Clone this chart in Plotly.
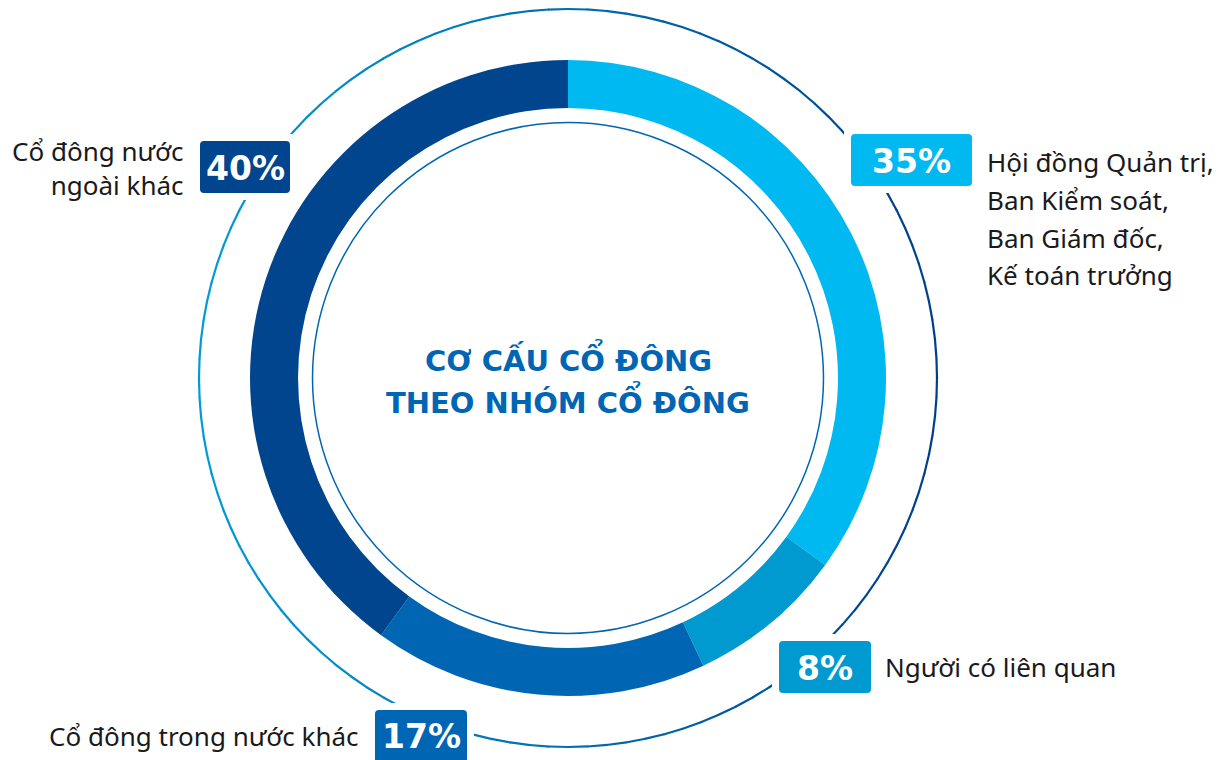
import numpy as np
import plotly.graph_objects as go

# ---------------- data ----------------
categories = [
    "Hội đồng Quản trị, Ban Kiểm soát, Ban Giám đốc, Kế toán trưởng",
    "Người có liên quan",
    "Cổ đông trong nước khác",
    "Cổ đông nước ngoài khác",
]
values = [35, 8, 17, 40]
label_lines = [
    ["Hội đồng Quản trị,", "Ban Kiểm soát,", "Ban Giám đốc,", "Kế toán trưởng"],
    ["Người có liên quan"],
    ["Cổ đông trong nước khác"],
    ["Cổ đông nước", "ngoài khác"],
]
slice_colors = ["#00b9f0", "#009ad0", "#0066b3", "#00458d"]
title_lines = ["CƠ CẤU CỔ ĐÔNG", "THEO NHÓM CỔ ĐÔNG"]

# ---------------- layout geometry (pixels) ----------------
W, H = 1232, 760
CX, CY = 568, 378
R_OUT, HOLE = 318, 0.849
R_INNER_LINE = 255.5
R_RING = 369

FONT = "Noto Sans"
BOLD_FONT = "DejaVu Sans"
TEXT_COLOR = "#1a1a1a"

fig = go.Figure()

# donut
fig.add_trace(go.Pie(
    labels=categories, values=values, sort=False, direction="clockwise",
    rotation=0, hole=HOLE, textinfo="none", hoverinfo="label+percent",
    marker=dict(colors=slice_colors, line=dict(width=0)),
    domain=dict(x=[(CX - R_OUT) / W, (CX + R_OUT) / W],
                y=[(H - CY - R_OUT) / H, (H - CY + R_OUT) / H]),
    showlegend=False,
))

# outer gradient ring (left light -> right dark)
c_left = np.array([0x00, 0x9c, 0xd8])
c_right = np.array([0x00, 0x3f, 0x8a])
nseg = 120
for i in range(nseg):
    t = np.linspace(2 * np.pi * i / nseg, 2 * np.pi * (i + 1) / nseg + 0.002, 8)
    xs = CX + R_RING * np.cos(t)
    ys = CY - R_RING * np.sin(t)
    f = (np.mean(xs) - (CX - R_RING)) / (2 * R_RING)
    c = (c_left + (c_right - c_left) * f).astype(int)
    fig.add_trace(go.Scatter(
        x=xs, y=ys, mode="lines", hoverinfo="skip", showlegend=False,
        line=dict(color="rgb(%d,%d,%d)" % tuple(c), width=2.2),
    ))

shapes = []
# inner thin circle
shapes.append(dict(type="circle", xref="x", yref="y",
                   x0=CX - R_INNER_LINE, x1=CX + R_INNER_LINE,
                   y0=CY - R_INNER_LINE, y1=CY + R_INNER_LINE,
                   line=dict(color="#0066b3", width=1.5), layer="above"))


def rrect(x0, y0, x1, y1, r):
    return (f"M{x0+r},{y0} L{x1-r},{y0} Q{x1},{y0} {x1},{y0+r} "
            f"L{x1},{y1-r} Q{x1},{y1} {x1-r},{y1} L{x0+r},{y1} "
            f"Q{x0},{y1} {x0},{y1-r} L{x0},{y0+r} Q{x0},{y0} {x0+r},{y0} Z")


# percentage boxes: (x0, y0, x1, y1)
boxes = [
    (851, 134, 972, 186),
    (779, 641, 871, 693),
    (375, 710, 467, 766),
    (200, 141, 290, 193),
]
pad = 7
annotations = []
for i, (x0, y0, x1, y1) in enumerate(boxes):
    shapes.append(dict(type="rect", xref="x", yref="y",
                       x0=x0 - pad, x1=x1 + pad, y0=y0 - pad, y1=y1 + pad,
                       fillcolor="white", line=dict(width=0), layer="above"))
    shapes.append(dict(type="path", xref="x", yref="y",
                       path=rrect(x0, y0, x1, y1, 4),
                       fillcolor=slice_colors[i], line=dict(width=0), layer="above"))
    annotations.append(dict(
        x=(x0 + x1) / 2, y=(y0 + min(y1, 760)) / 2 + 1, xref="x", yref="y",
        text=f"<b>{values[i]}%</b>", showarrow=False,
        xanchor="center", yanchor="middle",
        font=dict(family=BOLD_FONT, size=33, color="white"),
    ))

# category labels: (x, first-line y, line step, anchor)
label_pos = [
    dict(x=985, ys=[162, 200, 238, 275], anchor="left"),
    dict(x=883, ys=[667], anchor="left"),
    dict(x=361, ys=[736], anchor="right"),
    dict(x=186, ys=None, yc=168, anchor="right"),
]
for lines, pos in zip(label_lines, label_pos):
    if pos["ys"] is None:
        annotations.append(dict(
            x=pos["x"], y=pos["yc"], xref="x", yref="y",
            text="<br>".join(lines), showarrow=False, align=pos["anchor"],
            xanchor=pos["anchor"], yanchor="middle",
            font=dict(family=FONT, size=26, color=TEXT_COLOR),
        ))
        continue
    for txt, y in zip(lines, pos["ys"]):
        annotations.append(dict(
            x=pos["x"], y=y, xref="x", yref="y", text=txt, showarrow=False,
            xanchor=pos["anchor"], yanchor="middle",
            font=dict(family=FONT, size=26, color=TEXT_COLOR),
        ))

# center title
for txt, y in zip(title_lines, [358, 400]):
    annotations.append(dict(
        x=CX, y=y, xref="x", yref="y", text=f"<b>{txt}</b>", showarrow=False,
        xanchor="center", yanchor="middle",
        font=dict(family=BOLD_FONT, size=29, color="#0066b3"),
    ))

fig.update_layout(
    width=W, height=H, margin=dict(l=0, r=0, t=0, b=0),
    paper_bgcolor="white", plot_bgcolor="white",
    xaxis=dict(range=[0, W], visible=False, fixedrange=True),
    yaxis=dict(range=[H, 0], visible=False, fixedrange=True),
    shapes=shapes, annotations=annotations, showlegend=False,
)

fig.write_html("out.html")
